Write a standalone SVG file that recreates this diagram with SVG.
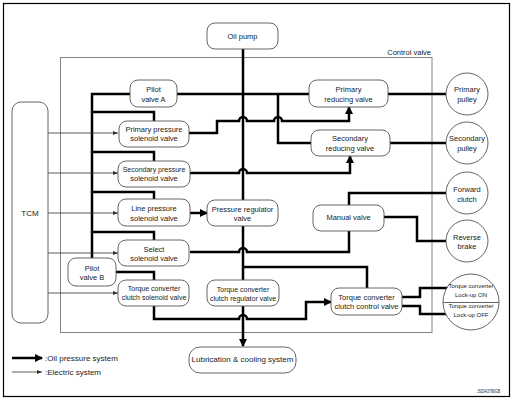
<svg xmlns="http://www.w3.org/2000/svg" width="513" height="400" viewBox="0 0 513 400">
<style>
text{font-family:"Liberation Sans",Arial,sans-serif;font-size:7.5px;fill:#222;text-anchor:middle}
.bx{fill:#fff;stroke:#555;stroke-width:0.9}
.oil{fill:none;stroke:#000;stroke-width:2.5;stroke-linejoin:miter}
.el{fill:none;stroke:#333;stroke-width:0.8}
.sm{font-size:7px}
.xs{font-size:6px}
</style>
<defs>
<marker id="oa" viewBox="0 0 8 8" refX="7" refY="4" markerUnits="userSpaceOnUse" markerWidth="8" markerHeight="8" orient="auto"><path d="M0,0 L8,4 L0,8 z" fill="#000"/></marker>
<marker id="ea" viewBox="0 0 5 4" refX="5" refY="2" markerUnits="userSpaceOnUse" markerWidth="5" markerHeight="4" orient="auto"><path d="M0,0 L5,2 L0,4 z" fill="#333"/></marker>
</defs>
<rect x="3.5" y="3.5" width="506" height="393" fill="#fff" stroke="#000" stroke-width="1.2"/>
<g id="control-valve-frame">
<rect x="60.5" y="57.5" width="371.5" height="275" fill="none" stroke="#777" stroke-width="0.9"/>
<text x="431" y="55" style="text-anchor:end">Control valve</text>
</g>
<g id="connectors">
<path class="oil" d="M243,49 V200"/>
<path class="oil" d="M243,226 V280"/>
<path class="oil" d="M243,306 V346" marker-end="url(#oa)"/>
<path class="oil" d="M130,94 H92 V258"/>
<path class="oil" d="M92,112 H154 V121"/>
<path class="oil" d="M92,152 H154 V161"/>
<path class="oil" d="M92,192 H154 V199"/>
<path class="oil" d="M92,232 H154 V240"/>
<path class="oil" d="M116,272 H154 V280"/>
<path class="oil" d="M177,94 H309"/>
<path class="oil" d="M278,94 V143 H311"/>
<path class="oil" d="M189,133 H217 V121 H239 A4,4 0 0 1 247,121 H274 A4,4 0 0 1 282,121 H349 V107" marker-end="url(#oa)"/>
<path class="oil" d="M190,173 H239 A4,4 0 0 1 247,173 H350 V156" marker-end="url(#oa)"/>
<path class="oil" d="M190,213 H207" marker-end="url(#oa)"/>
<path class="oil" d="M190,252 H239 A4,4 0 0 1 247,252 H349 V231"/>
<path class="oil" d="M349,205 V193 H447"/>
<path class="oil" d="M384,217 H417 V241 H447"/>
<path class="oil" d="M388,94 H446"/>
<path class="oil" d="M390,143 H446"/>
<path class="oil" d="M243,267 H367 V288"/>
<path class="oil" d="M154,306 V319 H239 A4,4 0 0 1 247,319 H306 V302 H331" marker-end="url(#oa)"/>
<path class="oil" d="M402,297 H420 V288 H448"/>
<path class="oil" d="M402,306 H420 V314 H448"/>
<path class="el" d="M48,133 H118" marker-end="url(#ea)"/>
<path class="el" d="M48,173 H118" marker-end="url(#ea)"/>
<path class="el" d="M48,213 H118" marker-end="url(#ea)"/>
<path class="el" d="M48,253 H118" marker-end="url(#ea)"/>
<path class="el" d="M48,293 H118" marker-end="url(#ea)"/>
</g>
<g id="oil-pump"><rect class="bx" x="207" y="23" width="71" height="26" rx="8"/><text x="242.5" y="39">Oil pump</text></g>
<g id="tcm"><rect class="bx" x="12" y="102" width="36" height="221" rx="9"/><text x="30" y="216" style="font-size:8px">TCM</text></g>
<g id="pilot-valve-a"><rect class="bx" x="130" y="80" width="47" height="27" rx="8"/><text x="153.5" y="92">Pilot</text><text x="153.5" y="102">valve A</text></g>
<g id="primary-pressure-solenoid"><rect class="bx" x="119" y="121" width="70" height="26" rx="8"/><text x="154" y="132">Primary pressure</text><text x="154" y="141">solenoid valve</text></g>
<g id="secondary-pressure-solenoid"><rect class="bx" x="118" y="161" width="72" height="26" rx="8"/><text x="154" y="172" class="sm">Secondary pressure</text><text x="154" y="181">solenoid valve</text></g>
<g id="line-pressure-solenoid"><rect class="bx" x="118" y="199" width="72" height="27" rx="8"/><text x="154" y="211">Line pressure</text><text x="154" y="221">solenoid valve</text></g>
<g id="select-solenoid"><rect class="bx" x="118" y="240" width="71" height="26" rx="8"/><text x="154" y="252">Select</text><text x="154" y="261">solenoid valve</text></g>
<g id="pilot-valve-b"><rect class="bx" x="68" y="258" width="48" height="28" rx="8"/><text x="92" y="270.5">Pilot</text><text x="92" y="280">valve B</text></g>
<g id="tcc-solenoid"><rect class="bx" x="118" y="280" width="71" height="26" rx="8"/><text x="154" y="291" class="sm">Torque converter</text><text x="154" y="300" class="sm">clutch solenoid valve</text></g>
<g id="pressure-regulator"><rect class="bx" x="207" y="200" width="71" height="26" rx="8"/><text x="242.5" y="212">Pressure regulator</text><text x="242.5" y="221">valve</text></g>
<g id="tcc-regulator"><rect class="bx" x="207" y="280" width="72" height="26" rx="8"/><text x="243" y="292" class="sm">Torque converter</text><text x="243" y="301" class="sm">clutch regulator valve</text></g>
<g id="primary-reducing"><rect class="bx" x="309" y="80" width="79" height="27" rx="8"/><text x="348.5" y="92">Primary</text><text x="348.5" y="102">reducing valve</text></g>
<g id="secondary-reducing"><rect class="bx" x="311" y="130" width="79" height="26" rx="8"/><text x="350" y="141">Secondary</text><text x="350" y="151">reducing valve</text></g>
<g id="manual-valve"><rect class="bx" x="313" y="205" width="71" height="26" rx="8"/><text x="348.5" y="220">Manual valve</text></g>
<g id="tcc-control"><rect class="bx" x="331" y="288" width="71" height="27" rx="8"/><text x="366.5" y="300">Torque converter</text><text x="366.5" y="309">clutch control valve</text></g>
<g id="lubrication"><rect class="bx" x="189" y="347" width="107" height="26" rx="11"/><text x="242.5" y="362" style="font-size:8px">Lubrication &amp; cooling system</text></g>
<g id="primary-pulley"><circle class="bx" cx="467" cy="94" r="21"/><text x="467" y="92">Primary</text><text x="467" y="102">pulley</text></g>
<g id="secondary-pulley"><circle class="bx" cx="467" cy="143" r="21"/><text x="467" y="141">Secondary</text><text x="467" y="151">pulley</text></g>
<g id="forward-clutch"><circle class="bx" cx="467" cy="193" r="21"/><text x="467" y="192">Forward</text><text x="467" y="202">clutch</text></g>
<g id="reverse-brake"><circle class="bx" cx="467" cy="241" r="21"/><text x="467" y="240">Reverse</text><text x="467" y="249">brake</text></g>
<g id="lockup"><circle class="bx" cx="471" cy="302" r="28"/><line x1="443" y1="302.5" x2="499" y2="302.5" stroke="#555" stroke-width="0.9"/><text x="471" y="288" class="xs">Torque converter</text><text x="471" y="297" class="xs">Lock-up ON</text><text x="471" y="308" class="xs">Torque converter</text><text x="471" y="316.5" class="xs">Lock-up OFF</text></g>
<g id="legend">
<path class="oil" d="M12,358 H42" marker-end="url(#oa)"/>
<path class="el" d="M12,372 H42" marker-end="url(#ea)"/>
<text x="45" y="361" style="text-anchor:start;font-size:8px">:Oil pressure system</text>
<text x="45" y="375" style="text-anchor:start;font-size:8px">:Electric system</text>
</g>
<text x="500" y="393" style="text-anchor:end;font-size:5px" textLength="23" lengthAdjust="spacingAndGlyphs">JSDIA3786GB</text>
</svg>
